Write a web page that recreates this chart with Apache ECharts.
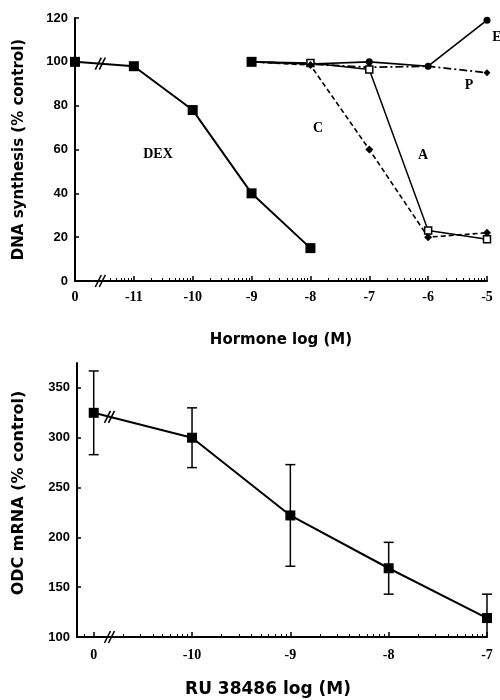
<!DOCTYPE html>
<html>
<head>
<meta charset="utf-8">
<script src="https://cdn.jsdelivr.net/npm/echarts@6/dist/echarts.min.js"></script>
<style>
  html, body { margin: 0; padding: 0; background: #fff; }
  #chart { width: 500px; height: 700px; }
</style>
</head>
<body>
<div id="chart"></div>
<script>
// top panel: hormone log(M); the "0" (vehicle) point sits in the -12 slot
const dexLog = [-12, -11, -10, -9, -8];
const dexVal = [100, 98, 78, 40, 15];
const hLog = [-9, -8, -7, -6, -5];
const eVal = [100, 99, 100, 98, 119];
const pVal = [100, 99, 97.5, 98, 95];
const aVal = [100, 99.5, 96.5, 23, 19];
const cVal = [100, 98.5, 60, 20, 22];

// bottom panel: RU 38486 log(M); "0" sits in the -11 slot
const ruTicks = [-11, -10, -9, -8, -7];
const ruLog = [-11, -10, -9, -8, -7];
const ruMean = [325, 300, 222, 169, 119];
const ruErr = [42, 30, 51, 26, 24];

const sansBold = 'Liberation Sans';
const heavy = 'DejaVu Sans';
const serif = 'Liberation Serif';

const pair = (xs, ys) => xs.map((x, i) => [x, ys[i]]);

// log-decade minor ticks between whole numbers
const logMinor = (from, to, skipBelow) => {
    let out = [];
    for (let d = from; d < to; d++) {
        for (let k = 2; k <= 9; k++) {
            const v = d + Math.log10(k);
            if (skipBelow == null || v > skipBelow) out.push(v);
        }
    }
    return out;
};

const chart = echarts.init(document.getElementById('chart'));

const xBase = {
    type: 'value',
    position: 'bottom',
    axisLine: { lineStyle: { color: '#000', width: 2 } },
    splitLine: { show: false },
};

const option = {
    animation: false,
    backgroundColor: '#fff',
    grid: [
        { left: 75, right: 13, top: 18, height: 263 },
        { left: 77, right: 13, top: 363, height: 274 },
    ],
    xAxis: [
        {
            ...xBase,
            gridIndex: 0,
            min: -12, max: -5, interval: 1,
            name: 'Hormone log (M)',
            nameLocation: 'middle',
            nameGap: 52,
            nameTextStyle: { fontFamily: heavy, fontWeight: 'bold', fontSize: 15, color: '#000' },
            axisTick: { inside: true, length: 5, lineStyle: { color: '#000', width: 1.5 } },
            axisLabel: {
                margin: 9,
                fontFamily: serif, fontWeight: 'bold', fontSize: 14, color: '#000',
                formatter: v => v === -12 ? '0' : String(v),
            },
        },
        {
            ...xBase,
            gridIndex: 0,
            min: -12, max: -5,
            axisLine: { show: false },
            axisLabel: { show: false },
            axisTick: {
                inside: true, length: 3,
                customValues: logMinor(-12, -5, -11.45),
                lineStyle: { color: '#000', width: 1 },
            },
        },
        {
            ...xBase,
            gridIndex: 1,
            min: -11.17, max: -7,
            name: 'RU 38486 log (M)',
            nameLocation: 'middle',
            nameGap: 44,
            nameTextStyle: { fontFamily: heavy, fontWeight: 'bold', fontSize: 17, color: '#000', padding: [0, 28, 0, 0] },
            axisTick: { inside: true, length: 5, customValues: ruTicks, lineStyle: { color: '#000', width: 1.5 } },
            axisLabel: {
                margin: 11,
                customValues: ruTicks,
                fontFamily: serif, fontWeight: 'bold', fontSize: 14, color: '#000',
                formatter: v => v === -11 ? '0' : String(v),
            },
        },
        {
            ...xBase,
            gridIndex: 1,
            min: -11.17, max: -7,
            axisLine: { show: false },
            axisLabel: { show: false },
            axisTick: {
                inside: true, length: 3,
                customValues: [-11.1].concat(logMinor(-11, -7, -10.8)),
                lineStyle: { color: '#000', width: 1 },
            },
        },
    ],
    yAxis: [
        {
            type: 'value',
            gridIndex: 0,
            min: 0, max: 120, interval: 20,
            name: 'DNA synthesis (% control)',
            nameLocation: 'middle',
            nameGap: 48,
            nameTextStyle: { fontFamily: heavy, fontWeight: 'bold', fontSize: 15, color: '#000' },
            axisLine: { show: true, lineStyle: { color: '#000', width: 2 } },
            axisTick: { show: true, inside: true, length: 4, lineStyle: { color: '#000', width: 1.5 } },
            axisLabel: { margin: 7, fontFamily: sansBold, fontWeight: 'bold', fontSize: 13, color: '#000' },
            splitLine: { show: false },
        },
        {
            type: 'value',
            gridIndex: 1,
            min: 100, max: 375, interval: 50,
            name: 'ODC mRNA (% control)',
            nameLocation: 'middle',
            nameGap: 50,
            nameTextStyle: { fontFamily: heavy, fontWeight: 'bold', fontSize: 16, color: '#000', padding: [0, 0, 0, 14] },
            axisLine: { show: true, lineStyle: { color: '#000', width: 2 } },
            axisTick: { show: true, inside: true, length: 4, lineStyle: { color: '#000', width: 1.5 } },
            axisLabel: { margin: 7, showMaxLabel: false, fontFamily: sansBold, fontWeight: 'bold', fontSize: 13, color: '#000' },
            splitLine: { show: false },
        },
    ],
    series: [
        {
            name: 'E', type: 'line', xAxisIndex: 0, yAxisIndex: 0,
            data: pair(hLog, eVal),
            symbol: (v, p) => (p.dataIndex < 2 ? 'none' : 'circle'),
            symbolSize: 7,
            itemStyle: { color: '#000' },
            lineStyle: { color: '#000', width: 1.6 },
        },
        {
            name: 'P', type: 'line', xAxisIndex: 0, yAxisIndex: 0,
            data: pair(hLog, pVal),
            symbol: (v, p) => (p.dataIndex === 0 ? 'rect' : 'diamond'),
            symbolSize: (v, p) => (p.dataIndex === 0 ? 10 : 7),
            itemStyle: { color: '#000' },
            lineStyle: { color: '#000', width: 1.8, type: [8, 3, 2, 3] },
        },
        {
            name: 'A', type: 'line', xAxisIndex: 0, yAxisIndex: 0,
            data: pair(hLog, aVal),
            symbol: (v, p) => (p.dataIndex === 0 ? 'none' : 'rect'),
            symbolSize: 7,
            itemStyle: { color: '#fff', borderColor: '#000', borderWidth: 1.5 },
            lineStyle: { color: '#000', width: 1.5 },
            z: 3,
        },
        {
            name: 'C', type: 'line', xAxisIndex: 0, yAxisIndex: 0,
            data: pair(hLog, cVal),
            symbol: (v, p) => (p.dataIndex === 0 ? 'none' : 'diamond'),
            symbolSize: 8,
            itemStyle: { color: '#000' },
            lineStyle: { color: '#000', width: 1.6, type: [5, 3] },
        },
        {
            name: 'DEX', type: 'line', xAxisIndex: 0, yAxisIndex: 0,
            data: pair(dexLog, dexVal),
            symbol: 'rect',
            symbolSize: 10,
            itemStyle: { color: '#000' },
            lineStyle: { color: '#000', width: 2 },
            z: 4,
        },
        {
            name: 'RU error', type: 'custom', xAxisIndex: 2, yAxisIndex: 1,
            data: ruLog.map((x, i) => [x, ruMean[i] - ruErr[i], ruMean[i] + ruErr[i]]),
            renderItem: (params, api) => {
                const lo = api.coord([api.value(0), Math.max(api.value(1), 100)]);
                const hi = api.coord([api.value(0), api.value(2)]);
                const w = 5;
                const st = { stroke: '#000', lineWidth: 1.5 };
                const kids = [
                    { type: 'line', shape: { x1: hi[0], y1: hi[1], x2: lo[0], y2: lo[1] }, style: st },
                    { type: 'line', shape: { x1: hi[0] - w, y1: hi[1], x2: hi[0] + w, y2: hi[1] }, style: st },
                ];
                if (api.value(1) > 100) {
                    kids.push({ type: 'line', shape: { x1: lo[0] - w, y1: lo[1], x2: lo[0] + w, y2: lo[1] }, style: st });
                }
                return { type: 'group', children: kids };
            },
            z: 1,
        },
        {
            name: 'RU 38486', type: 'line', xAxisIndex: 2, yAxisIndex: 1,
            data: pair(ruLog, ruMean),
            symbol: 'rect',
            symbolSize: 10,
            itemStyle: { color: '#000' },
            lineStyle: { color: '#000', width: 2 },
            z: 4,
        },
    ],
};

chart.setOption(option);

// "//" break marks on axes and first segment
const breakMark = (px, z) => {
    const st = { stroke: '#000', lineWidth: 1.6 };
    return [-2, 2].map(dx => ({
        type: 'line', z: z || 100,
        shape: { x1: px[0] + dx - 3, y1: px[1] + 6, x2: px[0] + dx + 3, y2: px[1] - 6 },
        style: st,
    }));
};
const lerp = (a, b, t) => a + (b - a) * t;
const topBrk = -11.57;
const botBrk = -10.84;
const pTopAxis = chart.convertToPixel({ gridIndex: 0 }, [topBrk, 0]);
const pTopLine = chart.convertToPixel({ gridIndex: 0 }, [topBrk, lerp(dexVal[0], dexVal[1], topBrk + 12)]);
const pBotAxis = chart.convertToPixel({ gridIndex: 1 }, [botBrk, 100]);
const pBotLine = chart.convertToPixel({ gridIndex: 1 }, [botBrk, lerp(ruMean[0], ruMean[1], botBrk + 11)]);

const note = (text, x, y) => ({
    type: 'text', x, y,
    style: { text, fill: '#000', font: 'bold 14px "Liberation Serif"', textAlign: 'center', textVerticalAlign: 'middle' },
});

chart.setOption({
    graphic: [
        ...breakMark(pTopAxis),
        ...breakMark(pTopLine),
        ...breakMark(pBotAxis),
        ...breakMark(pBotLine),
        note('DEX', 158, 154),
        note('C', 318, 128),
        note('A', 423, 155),
        note('P', 469, 85),
        note('E', 497, 37),
    ],
});
</script>
</body>
</html>
